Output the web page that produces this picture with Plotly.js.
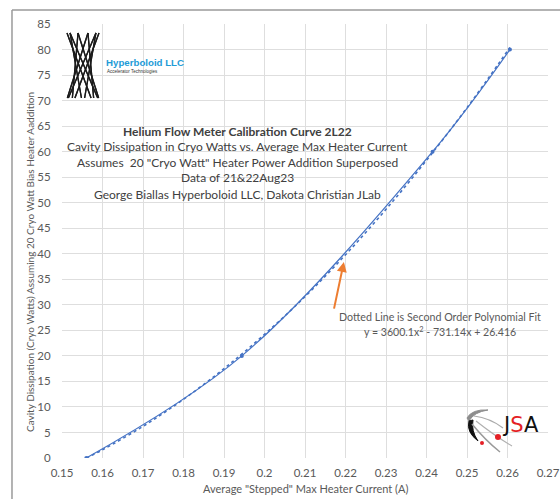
<!DOCTYPE html>
<html>
<head>
<meta charset="utf-8">
<script src="https://cdn.plot.ly/plotly-3.0.1.min.js"></script>
<style>html,body{margin:0;padding:0;background:#fff;}#chart{width:560px;height:499px;}</style>
</head>
<body>
<div id="chart"></div>
<script>
// Measured data (Average stepped max heater current vs cavity dissipation)
const currentA = [0.156, 0.1944, 0.2415, 0.2606];
const dissipationW = [0, 20, 60, 80];

// Dotted trendline
const fitX = [0.156, 0.16, 0.17, 0.18, 0.19, 0.20, 0.21, 0.22, 0.23, 0.24, 0.25, 0.2606];
const fitY = [0, 1.6, 6.2, 11.5, 17.5, 24.2, 31.6, 39.8, 48.7, 58.3, 68.6, 80.4];

const titleLines = [
  '<b>Helium Flow Meter Calibration Curve 2L22</b>',
  'Cavity Dissipation in Cryo Watts vs. Average Max Heater Current',
  'Assumes  20 "Cryo Watt" Heater Power Addition Superposed',
  'Data of 21&amp;22Aug23',
  'George Biallas Hyperboloid LLC, Dakota Christian JLab'
];
const fitNote = ['Dotted Line is Second Order Polynomial Fit', 'y = 3600.1x<sup>2</sup> - 731.14x + 26.416'];
const xTitle = 'Average "Stepped" Max Heater Current (A)';
const yTitle = 'Cavity Dissipation (Cryo Watts) Assuming 20 Cryo Watt Bias Heater Aaddition';

const W = 560, H = 499, ML = 62, MR = 12, MT = 24, MB = 41;
const PW = W - ML - MR, PH = H - MT - MB;
const px = v => ((v - ML) / PW).toFixed(4);
const py = v => ((H - MB - v) / PH).toFixed(4);
const P = (x, y) => px(x) + ',' + py(y);

const FONT = 'Lato, "Open Sans", sans-serif';
const GRAY = '#595959';
const BLUE = '#4472c4';

const traces = [
  {x: fitX, y: fitY, type: 'scatter', mode: 'lines', line: {color: BLUE, width: 1.6, dash: 'dot', shape: 'spline'}, hoverinfo: 'skip', showlegend: false},
  {x: currentA, y: dissipationW, type: 'scatter', mode: 'lines+markers', line: {color: BLUE, width: 1.2, shape: 'spline'}, marker: {color: BLUE, size: 4}, showlegend: false}
];

const shapes = [];
// outer chart frame (left and top edges visible)
shapes.push({type: 'line', xref: 'paper', yref: 'paper', x0: px(12), y0: py(10), x1: px(12), y1: py(499), line: {color: '#9a9a9a', width: 1.5}});
shapes.push({type: 'line', xref: 'paper', yref: 'paper', x0: px(12), y0: py(10), x1: px(560), y1: py(10), line: {color: '#9a9a9a', width: 1.5}});

// Hyperboloid logo: twisted straight rulings
const cx = 83, topY = 33, botY = 98, R = 16, phi = 2.1;
for (let k = 0; k < 10; k++) {
  const th = k * Math.PI * 2 / 10;
  [phi, -phi].forEach(f => {
    const xt = cx + R * Math.cos(th), xb = cx + R * Math.cos(th + f);
    shapes.push({type: 'line', xref: 'paper', yref: 'paper', x0: px(xt), y0: py(topY), x1: px(xb), y1: py(botY), line: {color: '#1a1a1a', width: 1.3}});
  });
}

// JSA logo swooshes
shapes.push({type: 'path', xref: 'paper', yref: 'paper', path: 'M' + P(467, 418) + ' Q' + P(472, 409) + ' ' + P(488, 410) + ' Q' + P(474, 412) + ' ' + P(469, 421) + ' Z', fillcolor: '#8c8c8c', line: {color: '#8c8c8c', width: 1}});
shapes.push({type: 'path', xref: 'paper', yref: 'paper', path: 'M' + P(469, 421) + ' Q' + P(466, 432) + ' ' + P(478, 441) + ' Q' + P(471, 431) + ' ' + P(473, 420) + ' Z', fillcolor: '#111', line: {color: '#111', width: 1}});
shapes.push({type: 'path', xref: 'paper', yref: 'paper', path: 'M' + P(472, 424) + ' Q' + P(485, 440) + ' ' + P(500, 452), line: {color: '#9a9a9a', width: 1.5}});
shapes.push({type: 'path', xref: 'paper', yref: 'paper', path: 'M' + P(476, 421) + ' Q' + P(495, 436) + ' ' + P(512, 446), line: {color: '#b0b0b0', width: 1.2}});
shapes.push({type: 'path', xref: 'paper', yref: 'paper', path: 'M' + P(474, 416) + ' Q' + P(490, 418) + ' ' + P(503, 428), line: {color: '#aaaaaa', width: 1.2}});
shapes.push({type: 'circle', xref: 'paper', yref: 'paper', x0: px(495), y0: py(434), x1: px(501), y1: py(440), fillcolor: '#e41f26', line: {width: 0}});
shapes.push({type: 'circle', xref: 'paper', yref: 'paper', x0: px(480), y0: py(441), x1: px(484), y1: py(445), fillcolor: '#e41f26', line: {width: 0}});

const annotations = [];
const lineY = [132, 147, 162, 178, 195];
const lineSize = [12, 12, 12, 12, 12];
titleLines.forEach((t, i) => {
  annotations.push({xref: 'paper', yref: 'paper', x: px(238), y: py(lineY[i]), text: t, showarrow: false, xanchor: 'center', yanchor: 'middle', font: {family: FONT, size: lineSize[i], color: '#404040'}});
});
annotations.push({xref: 'paper', yref: 'paper', x: px(440), y: py(317), text: fitNote[0], showarrow: false, xanchor: 'center', yanchor: 'middle', font: {family: FONT, size: 10.7, color: GRAY}});
annotations.push({xref: 'paper', yref: 'paper', x: px(440), y: py(331), text: fitNote[1], showarrow: false, xanchor: 'center', yanchor: 'middle', font: {family: FONT, size: 10.6, color: GRAY}});
// axis titles
annotations.push({xref: 'paper', yref: 'paper', x: px(305), y: py(489), text: xTitle, showarrow: false, xanchor: 'center', yanchor: 'middle', font: {family: FONT, size: 11, color: GRAY}});
annotations.push({xref: 'paper', yref: 'paper', x: px(30), y: py(262), text: yTitle, textangle: -90, showarrow: false, xanchor: 'center', yanchor: 'middle', font: {family: FONT, size: 10, color: GRAY}});
// orange arrow
annotations.push({x: 0.2196, y: 38.4, xref: 'x', yref: 'y', ax: 0.2167, ay: 27.5, axref: 'x', ayref: 'y', text: ' ', showarrow: true, arrowhead: 2, arrowsize: 1, arrowwidth: 2, arrowcolor: '#ed7d31'});
// logo texts
annotations.push({xref: 'paper', yref: 'paper', x: px(104), y: py(62), text: '<b>Hyperboloid LLC</b>', showarrow: false, xanchor: 'left', yanchor: 'middle', font: {family: 'Liberation Sans, Arial, sans-serif', size: 9.7, color: '#1e9bd7'}});
annotations.push({xref: 'paper', yref: 'paper', x: px(105), y: py(71), text: 'Accelerator Technologies', showarrow: false, xanchor: 'left', yanchor: 'middle', font: {family: 'Liberation Sans, Arial, sans-serif', size: 4.5, color: '#333'}});
annotations.push({xref: 'paper', yref: 'paper', x: px(520), y: py(425), text: 'J<span style="color:#e41f26">S</span>A', showarrow: false, xanchor: 'center', yanchor: 'middle', font: {family: 'DejaVu Sans, sans-serif', size: 21, color: '#111'}});

const layout = {
  width: W, height: H,
  margin: {l: ML, r: MR, t: MT, b: MB, pad: 0},
  paper_bgcolor: '#ffffff', plot_bgcolor: '#ffffff',
  font: {family: FONT, color: GRAY},
  xaxis: {range: [0.15, 0.27], dtick: 0.01, tick0: 0.15, showgrid: true, gridcolor: '#dedede', gridwidth: 1, zeroline: false, showline: false,
    ticks: 'outside', ticklen: 4, tickcolor: 'rgba(0,0,0,0)',
    tickfont: {family: FONT, size: 11.5, color: GRAY}},
  yaxis: {range: [0, 85], dtick: 5, showgrid: true, gridcolor: '#dedede', gridwidth: 1, zeroline: false, showline: false,
    ticks: 'outside', ticklen: 8, tickcolor: 'rgba(0,0,0,0)',
    tickfont: {family: FONT, size: 11.5, color: GRAY}},
  shapes: shapes,
  annotations: annotations,
  showlegend: false
};

Plotly.newPlot('chart', traces, layout, {displayModeBar: false, staticPlot: true});
</script>
</body>
</html>
